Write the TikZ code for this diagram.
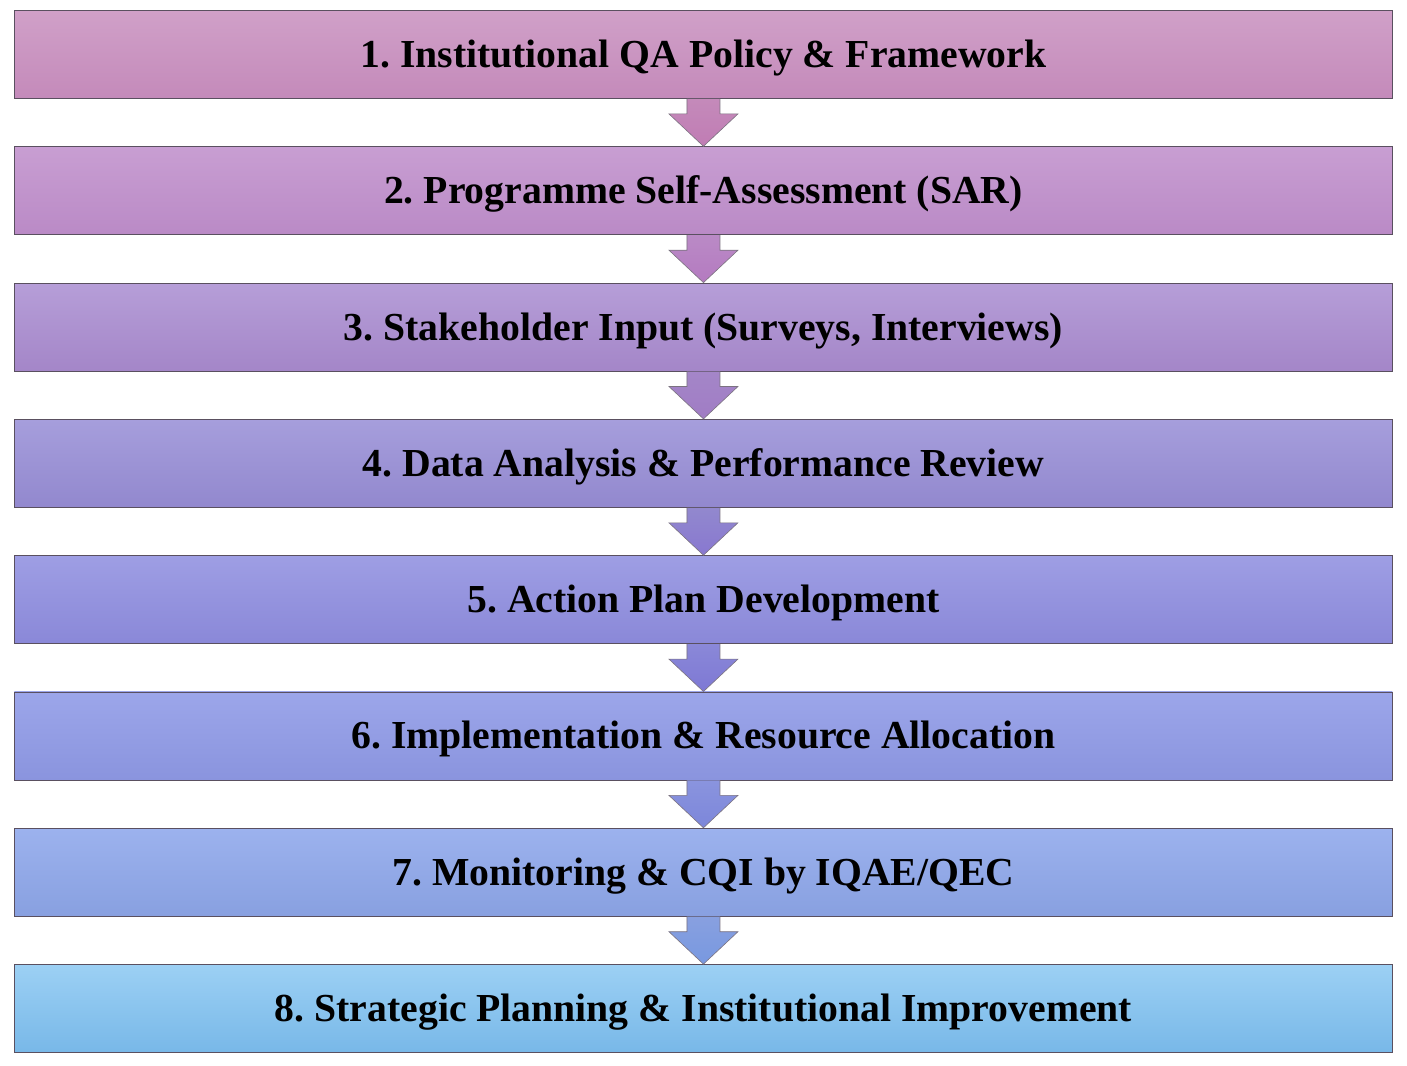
\documentclass[tikz,border=0pt]{standalone}
\usepackage{fontspec}
\setmainfont{Liberation Serif}
\usetikzlibrary{calc}
\definecolor{t1}{HTML}{D0A0C8}\definecolor{u1}{HTML}{C48ABA}
\definecolor{t2}{HTML}{C89ED2}\definecolor{u2}{HTML}{BA8AC6}
\definecolor{t3}{HTML}{B69ED8}\definecolor{u3}{HTML}{A486C8}
\definecolor{t4}{HTML}{A69EDC}\definecolor{u4}{HTML}{9288CE}
\definecolor{t5}{HTML}{9E9EE4}\definecolor{u5}{HTML}{8A88D8}
\definecolor{t6}{HTML}{9CA6EA}\definecolor{u6}{HTML}{8A94DE}
\definecolor{t7}{HTML}{9CB2EE}\definecolor{u7}{HTML}{88A0E0}
\definecolor{t8}{HTML}{9CD0F4}\definecolor{u8}{HTML}{78B8E8}
\definecolor{a1}{HTML}{C07CB4}\definecolor{a2}{HTML}{B47AC0}
\definecolor{a3}{HTML}{A07CC4}\definecolor{a4}{HTML}{8878D0}
\definecolor{a5}{HTML}{7E78D4}\definecolor{a6}{HTML}{7C86DA}
\definecolor{a7}{HTML}{7898E0}
\definecolor{edge}{HTML}{5A5060}
\begin{document}
\frenchspacing
\begin{tikzpicture}[x=1pt,y=-1pt,
  stepbox/.style={draw=edge,line width=0.9pt,minimum width=1378pt,minimum height=88pt,
    inner sep=0pt,text height=30pt,text depth=4pt,
    font=\fontsize{39.7}{45}\selectfont\bfseries,anchor=north west},
  flowarrow/.style={draw=edge!80,line width=0.6pt}]
\useasboundingbox (0,0) rectangle (1407,1065);
\fill[white] (0,0) rectangle (1407,1065);
\foreach \i/\txt in {1/{1. Institutional QA Policy \& Framework},
  2/{2. Programme Self-Assessment (SAR)},
  3/{3. Stakeholder Input (Surveys, Interviews)},
  4/{4. Data Analysis \& Performance Review},
  5/{5. Action Plan Development},
  6/{6. Implementation \& Resource Allocation},
  7/{7. Monitoring \& CQI by IQAE/QEC},
  8/{8. Strategic Planning \& Institutional Improvement}}{
  \node[stepbox,top color=t\i,bottom color=u\i] (b\i) at (14,{10+136.3*(\i-1)}) {\txt};
}
\foreach \i [evaluate=\i as \j using int(\i+1)] in {1,...,7}{
  \path[flowarrow,top color=u\i,bottom color=a\i]
    ($(b\i.south)+(-16.5,0)$) -- ($(b\i.south)+(-16.5,15)$) -- ($(b\i.south)+(-34.5,15)$)
    -- (b\j.north) -- ($(b\i.south)+(34.5,15)$) -- ($(b\i.south)+(16.5,15)$)
    -- ($(b\i.south)+(16.5,0)$);
}
\end{tikzpicture}
\end{document}
